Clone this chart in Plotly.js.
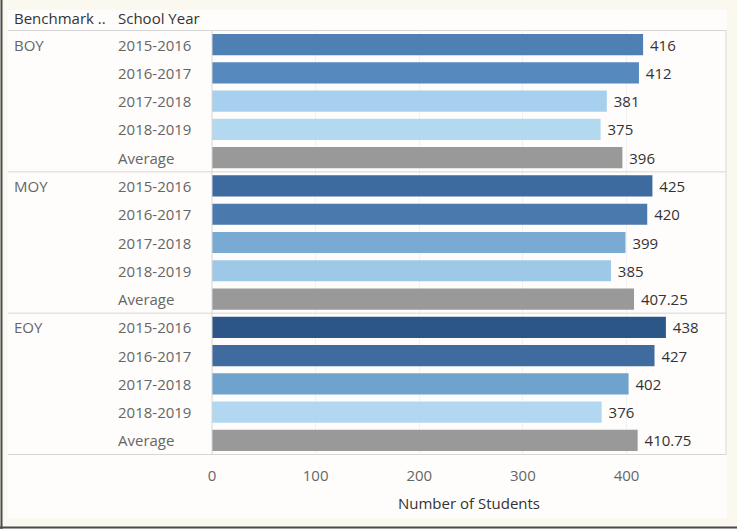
<!DOCTYPE html>
<html>
<head>
<meta charset="utf-8">
<script src="https://cdn.plot.ly/plotly-3.0.1.min.js"></script>
<style>
  html, body { margin: 0; padding: 0; background: #fbf8f0; }
  #chart { width: 737px; height: 529px; }
</style>
</head>
<body>
<div id="chart"></div>
<script>
// ---- data ----
const benchmarks = ['BOY', 'MOY', 'EOY'];
const schoolYears = ['2015-2016', '2016-2017', '2017-2018', '2018-2019', 'Average'];
const boyValues = [416, 412, 381, 375, 396];
const moyValues = [425, 420, 399, 385, 407.25];
const eoyValues = [438, 427, 402, 376, 410.75];
const xTickValues = [0, 100, 200, 300, 400];
const xTitle = 'Number of Students';
const headerLabels = ['Benchmark ..', 'School Year'];

// ---- styles ----
const boyColors = ['#4f80b4', '#5689bd', '#a7d0ee', '#b3d9f1', '#999999'];
const moyColors = ['#3d6a9f', '#4a79ad', '#78aad4', '#9dc8e8', '#999999'];
const eoyColors = ['#2b5687', '#3f6b9e', '#6fa3cd', '#b1d8f0', '#999999'];

const seriesValues = [boyValues, moyValues, eoyValues];
const seriesColors = [boyColors, moyColors, eoyColors];

const yKeys = [], xVals = [], colors = [], texts = [];
benchmarks.forEach((b, bi) => {
  schoolYears.forEach((yr, yi) => {
    yKeys.push(b + ' ' + yr);
    xVals.push(seriesValues[bi][yi]);
    colors.push(seriesColors[bi][yi]);
    texts.push('\u00a0' + String(seriesValues[bi][yi]));
  });
});

const FONT = '"Open Sans", "DejaVu Sans", sans-serif';
const FS = 15;
const plotL = 212, plotR = 11, W = 737, H = 529, plotT = 30, plotB = 74;
const plotW = W - plotL - plotR;
const plotH = H - plotT - plotB;
const px2paper = (px) => (px - plotL) / plotW;
const py2paper = (py) => 1 - (py - plotT) / plotH;

const annotations = [];
// year labels
yKeys.forEach((k, i) => {
  annotations.push({
    xref: 'paper', yref: 'y', x: px2paper(116), y: i, xanchor: 'left', yanchor: 'middle',
    text: schoolYears[i % schoolYears.length], showarrow: false,
    font: { family: FONT, size: FS, color: '#666666' }
  });
});
// benchmark labels
benchmarks.forEach((b, bi) => {
  annotations.push({
    xref: 'paper', yref: 'y', x: px2paper(12), y: bi * schoolYears.length, xanchor: 'left', yanchor: 'middle',
    text: b, showarrow: false,
    font: { family: FONT, size: FS, color: '#666666' }
  });
});
// headers
annotations.push({
  xref: 'paper', yref: 'paper', x: px2paper(12), y: py2paper(18), xanchor: 'left', yanchor: 'middle',
  text: headerLabels[0], showarrow: false, font: { family: FONT, size: FS, color: '#333333' }
});
annotations.push({
  xref: 'paper', yref: 'paper', x: px2paper(116), y: py2paper(18), xanchor: 'left', yanchor: 'middle',
  text: headerLabels[1], showarrow: false, font: { family: FONT, size: FS, color: '#333333' }
});

const shapes = [];
// inner white panel
shapes.push({
  type: 'rect', xref: 'paper', yref: 'paper', layer: 'below',
  x0: px2paper(8), x1: px2paper(727),
  y0: py2paper(10), y1: py2paper(518),
  fillcolor: '#fefdfb', line: { width: 0 }
});
// horizontal separators
const sepYs = [-0.5];
benchmarks.forEach((b, bi) => sepYs.push((bi + 1) * schoolYears.length - 0.5));
sepYs.forEach(y => {
  shapes.push({
    type: 'line', xref: 'paper', yref: 'y', x0: px2paper(8), x1: 1, y0: y, y1: y,
    line: { color: '#d6d6d6', width: 1 }, layer: 'above'
  });
});
// vertical lines: zero axis and right border
[0, 1].forEach(xp => {
  shapes.push({
    type: 'line', xref: 'paper', yref: 'paper', x0: xp, x1: xp, y0: 0, y1: 1,
    line: { color: '#d6d6d6', width: 1 }, layer: 'above'
  });
});
// outer dark frame lines (left & bottom)
shapes.push({
  type: 'line', xref: 'paper', yref: 'paper', x0: px2paper(1.5), x1: px2paper(1.5),
  y0: py2paper(529), y1: py2paper(0),
  line: { color: '#4a4a4a', width: 2 }
});
shapes.push({
  type: 'line', xref: 'paper', yref: 'paper', x0: px2paper(0), x1: px2paper(737),
  y0: py2paper(527.5), y1: py2paper(527.5),
  line: { color: '#4a4a4a', width: 2 }
});

const trace = {
  type: 'bar', orientation: 'h',
  x: xVals, y: yKeys,
  marker: { color: colors, line: { width: 0 } },
  width: 0.75,
  text: texts, textposition: 'outside', cliponaxis: false,
  textfont: { family: FONT, size: FS, color: '#333333' },
  hoverinfo: 'none'
};

const layout = {
  width: W, height: H,
  margin: { l: plotL, r: plotR, t: plotT, b: plotB, pad: 0 },
  paper_bgcolor: '#fbf8f0',
  plot_bgcolor: 'rgba(0,0,0,0)',
  showlegend: false,
  bargap: 0.25,
  xaxis: {
    range: [0, 496],
    tickvals: xTickValues,
    ticktext: xTickValues.map(String),
    ticks: 'outside', ticklen: 7, tickcolor: 'rgba(0,0,0,0)',
    showgrid: true, gridcolor: '#f1f1f1', gridwidth: 1,
    zeroline: false, showline: false,
    tickfont: { family: FONT, size: FS, color: '#666666' },
    title: { text: xTitle, font: { family: FONT, size: FS, color: '#333333' }, standoff: 14 },
    fixedrange: true
  },
  yaxis: {
    type: 'category',
    autorange: 'reversed',
    range: [yKeys.length - 0.5, -0.5],
    showticklabels: false, showgrid: false, zeroline: false, showline: false,
    fixedrange: true
  },
  annotations: annotations,
  shapes: shapes
};

Plotly.newPlot('chart', [trace], layout, { displayModeBar: false, staticPlot: true });
</script>
</body>
</html>
